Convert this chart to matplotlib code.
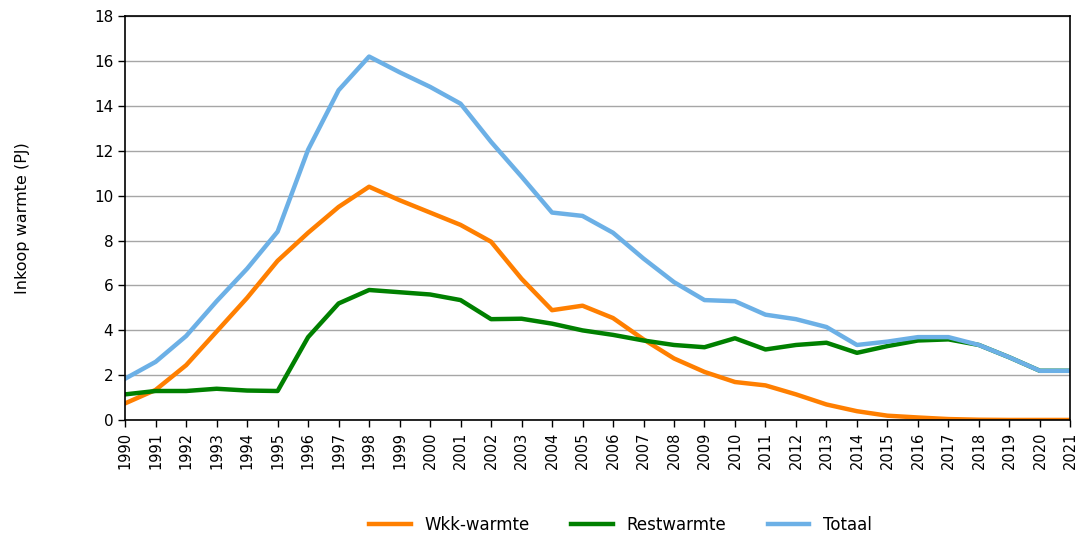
import matplotlib
matplotlib.use("Agg")
import matplotlib.pyplot as plt

plt.rcParams["font.family"] = ["DejaVu Sans"]

jaren = list(range(1990, 2022))
wkk = [0.75, 1.35, 2.45, 3.95, 5.45, 7.1, 8.35, 9.5, 10.4, 9.8, 9.25, 8.7, 7.95, 6.3,
       4.9, 5.1, 4.55, 3.6, 2.75, 2.15, 1.7, 1.55, 1.15, 0.7, 0.4, 0.2, 0.12, 0.05,
       0.02, 0.01, 0.01, 0.01]
rest = [1.15, 1.3, 1.3, 1.4, 1.32, 1.3, 3.7, 5.2, 5.8, 5.7, 5.6, 5.35, 4.5, 4.52,
        4.3, 4.0, 3.8, 3.55, 3.35, 3.25, 3.65, 3.15, 3.35, 3.45, 3.0, 3.3, 3.55, 3.6,
        3.35, 2.8, 2.2, 2.2]
totaal = [1.85, 2.6, 3.75, 5.3, 6.75, 8.4, 12.05, 14.7, 16.2, 15.5, 14.85, 14.1, 12.4,
          10.85, 9.25, 9.1, 8.35, 7.2, 6.15, 5.35, 5.3, 4.7, 4.5, 4.15, 3.35, 3.5, 3.7,
          3.7, 3.35, 2.8, 2.2, 2.2]

fig = plt.figure(figsize=(10.79, 5.38), dpi=100)
ax = fig.add_axes([0.116, 0.219, 0.876, 0.751])

ax.plot(jaren, wkk, color="#FF7F00", lw=3.2, label="Wkk-warmte", solid_joinstyle="round")
ax.plot(jaren, rest, color="#008000", lw=3.2, label="Restwarmte", solid_joinstyle="round")
ax.plot(jaren, totaal, color="#6CB0E6", lw=3.2, label="Totaal", solid_joinstyle="round")

ax.set_xlim(1990, 2021)
ax.set_ylim(0, 18)
ax.set_yticks(range(0, 19, 2))
ax.set_xticks(jaren)
ax.set_xticklabels([str(j) for j in jaren], rotation=90, fontsize=10.5)
ax.tick_params(axis="y", labelsize=11)
ax.tick_params(direction="out", length=5, width=1)
ax.yaxis.grid(True, color="#a6a6a6", lw=1)
ax.set_axisbelow(True)
for s in ax.spines.values():
    s.set_color("black")
    s.set_linewidth(1.2)

ax.set_ylabel("Inkoop warmte (PJ)", fontsize=11.5, labelpad=46)

fig.legend(loc="center", bbox_to_anchor=(0.575, 0.025), ncol=3, frameon=False,
           fontsize=12, handlelength=2.5, columnspacing=2.5)

fig.savefig("out.png", dpi=100)
